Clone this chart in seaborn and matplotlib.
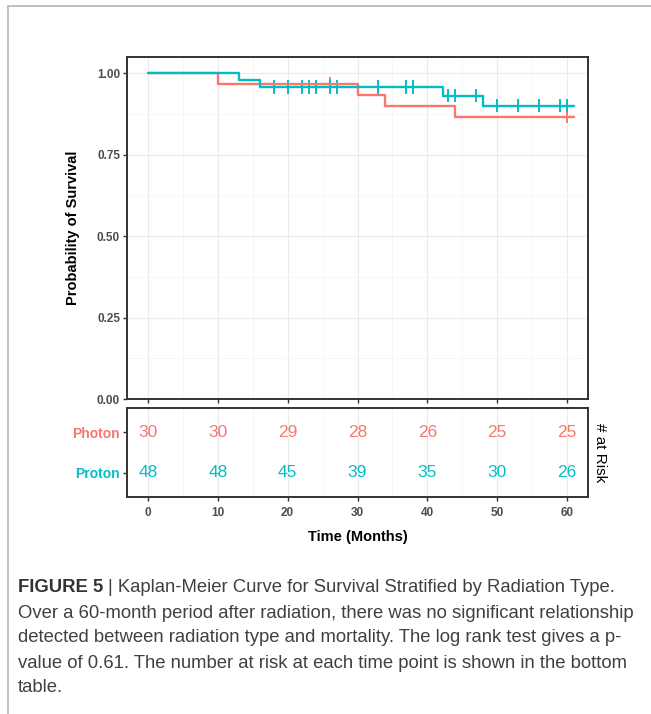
import numpy as np
import pandas as pd
import matplotlib
matplotlib.use("Agg")
import matplotlib.pyplot as plt
import matplotlib.ticker as mticker
from matplotlib.lines import Line2D
import seaborn as sns

# ─── Data ─────────────────────────────────────────────────────────────────────

groups = ["Photon", "Proton"]
colors = {"Photon": "#F8766D", "Proton": "#00BFC4"}

photon_times = [0, 10, 30, 34, 44, 61]
photon_surv = [1.000, 0.967, 0.933, 0.900, 0.867, 0.867]
proton_times = [0, 13, 16, 42.3, 48, 61]
proton_surv = [1.000, 0.979, 0.958, 0.931, 0.901, 0.901]

photon_cens_t = [26, 60]
photon_cens_s = [0.967, 0.867]
proton_cens_t = [18, 20, 22, 23, 24, 26, 27, 33, 37, 38, 43, 44, 47, 50, 53, 56, 59, 60]
proton_cens_s = [0.958] * 10 + [0.931] * 3 + [0.901] * 5

risk_times = [0, 10, 20, 30, 40, 50, 60]
photon_risk = [30, 30, 29, 28, 26, 25, 25]
proton_risk = [48, 48, 45, 39, 35, 30, 26]

caption_lines = [
    "Kaplan-Meier Curve for Survival Stratified by Radiation Type.",
    "Over a 60-month period after radiation, there was no significant relationship",
    "detected between radiation type and mortality. The log rank test gives a p-",
    "value of 0.61. The number at risk at each time point is shown in the bottom",
    "table.",
]

# ─── Frames ───────────────────────────────────────────────────────────────────

curves = pd.concat([
    pd.DataFrame({"time": photon_times, "surv": photon_surv, "group": "Photon"}),
    pd.DataFrame({"time": proton_times, "surv": proton_surv, "group": "Proton"}),
], ignore_index=True)

cens = pd.concat([
    pd.DataFrame({"time": photon_cens_t, "surv": photon_cens_s, "group": "Photon"}),
    pd.DataFrame({"time": proton_cens_t, "surv": proton_cens_s, "group": "Proton"}),
], ignore_index=True)

# ─── Plot ─────────────────────────────────────────────────────────────────────

sns.set_theme(style="white")
plt.rcParams["font.family"] = ["Liberation Sans", "DejaVu Sans"]

W, H = 651, 714
fig = plt.figure(figsize=(W / 100, H / 100), dpi=100)


def frac_box(x0, y0, x1, y1):
    return [x0 / W, 1 - y1 / H, (x1 - x0) / W, (y1 - y0) / H]


ax = fig.add_axes(frac_box(127, 57, 588, 399))
axr = fig.add_axes(frac_box(127, 408, 588, 497))

tick_col = "#4D4D4D"
border_col = "#333333"


def style_axes(a):
    for s in a.spines.values():
        s.set_color(border_col)
        s.set_linewidth(1.4)
    a.tick_params(axis="both", which="major", direction="out", length=3, width=1,
                  color=border_col, labelsize=8.5, labelcolor=tick_col, pad=2,
                  bottom=True, left=True)
    a.tick_params(axis="both", which="minor", length=0)
    a.grid(True, which="major", color="#EBEBEB", linewidth=0.8)
    a.grid(True, which="minor", color="#F3F3F3", linewidth=0.5)
    a.set_axisbelow(True)


# survival curves
sns.lineplot(data=curves, x="time", y="surv", hue="group", palette=colors,
             hue_order=groups, drawstyle="steps-post", estimator=None, sort=False,
             linewidth=1.7, legend=False, ax=ax)
sns.scatterplot(data=cens, x="time", y="surv", hue="group", palette=colors,
                hue_order=groups, marker="|", s=90, linewidth=1.4, legend=False, ax=ax)

ax.set_xlim(-3, 63)
ax.set_ylim(0, 1.05)
ax.xaxis.set_major_locator(mticker.MultipleLocator(10))
ax.xaxis.set_minor_locator(mticker.MultipleLocator(5))
ax.yaxis.set_major_locator(mticker.FixedLocator([0, 0.25, 0.5, 0.75, 1.0]))
ax.yaxis.set_minor_locator(mticker.FixedLocator([0.125, 0.375, 0.625, 0.875]))
ax.yaxis.set_major_formatter(mticker.FormatStrFormatter("%.2f"))
style_axes(ax)
ax.set_xticklabels([])
ax.set_xlabel("")
ax.set_ylabel("Probability of Survival", fontsize=10.5, fontweight="bold",
              color="black", labelpad=12)
for lab in ax.get_yticklabels():
    lab.set_fontweight("bold")

# risk table
row_pos = {"Photon": 2, "Proton": 1}
for grp, counts in zip(groups, [photon_risk, proton_risk]):
    for t, n in zip(risk_times, counts):
        axr.text(t, row_pos[grp], str(n), color=colors[grp], fontsize=12.5,
                 ha="center", va="center")

axr.set_xlim(-3, 63)
axr.set_ylim(0.4, 2.6)
axr.xaxis.set_major_locator(mticker.MultipleLocator(10))
axr.xaxis.set_minor_locator(mticker.MultipleLocator(5))
axr.set_yticks([row_pos[g] for g in groups])
axr.set_yticklabels(groups)
style_axes(axr)
axr.grid(False, axis="y", which="both")
for lab, grp in zip(axr.get_yticklabels(), groups):
    lab.set_color(colors[grp])
    lab.set_fontweight("bold")
    lab.set_fontsize(10)
for lab in axr.get_xticklabels():
    lab.set_fontweight("bold")
axr.tick_params(axis="x", pad=4)
axr.set_xlabel("Time (Months)", fontsize=10.5, fontweight="bold", color="black",
               labelpad=8)
axr.yaxis.set_label_position("right")
axr.set_ylabel("# at Risk", fontsize=11, color="black", rotation=270,
               labelpad=14)

# caption
cap_x = 18 / W
cap_size = 13.35
cap_col = "#404040"
head = fig.text(cap_x, 1 - 588 / H, "FIGURE 5", fontsize=cap_size, fontweight="bold",
                color="#333333", va="center", ha="left")
renderer = fig.canvas.get_renderer()
head_end = head.get_window_extent(renderer).x1 / W
fig.text(head_end + 5 / W, 1 - 588 / H, "| " + caption_lines[0], fontsize=cap_size,
         color=cap_col, va="center", ha="left")
for i, line in enumerate(caption_lines[1:], start=1):
    fig.text(cap_x, 1 - (588 + 25 * i) / H, line, fontsize=cap_size,
             color=cap_col, va="center", ha="left")

# frame lines around the figure box
fig.add_artist(Line2D([8 / W, 1], [1 - 6 / H, 1 - 6 / H], color="#B5B5B5",
                      linewidth=1.2, transform=fig.transFigure))
fig.add_artist(Line2D([8 / W, 8 / W], [0, 1 - 6 / H], color="#B5B5B5",
                      linewidth=1.2, transform=fig.transFigure))

fig.savefig("out.png", dpi=100, facecolor="white")
